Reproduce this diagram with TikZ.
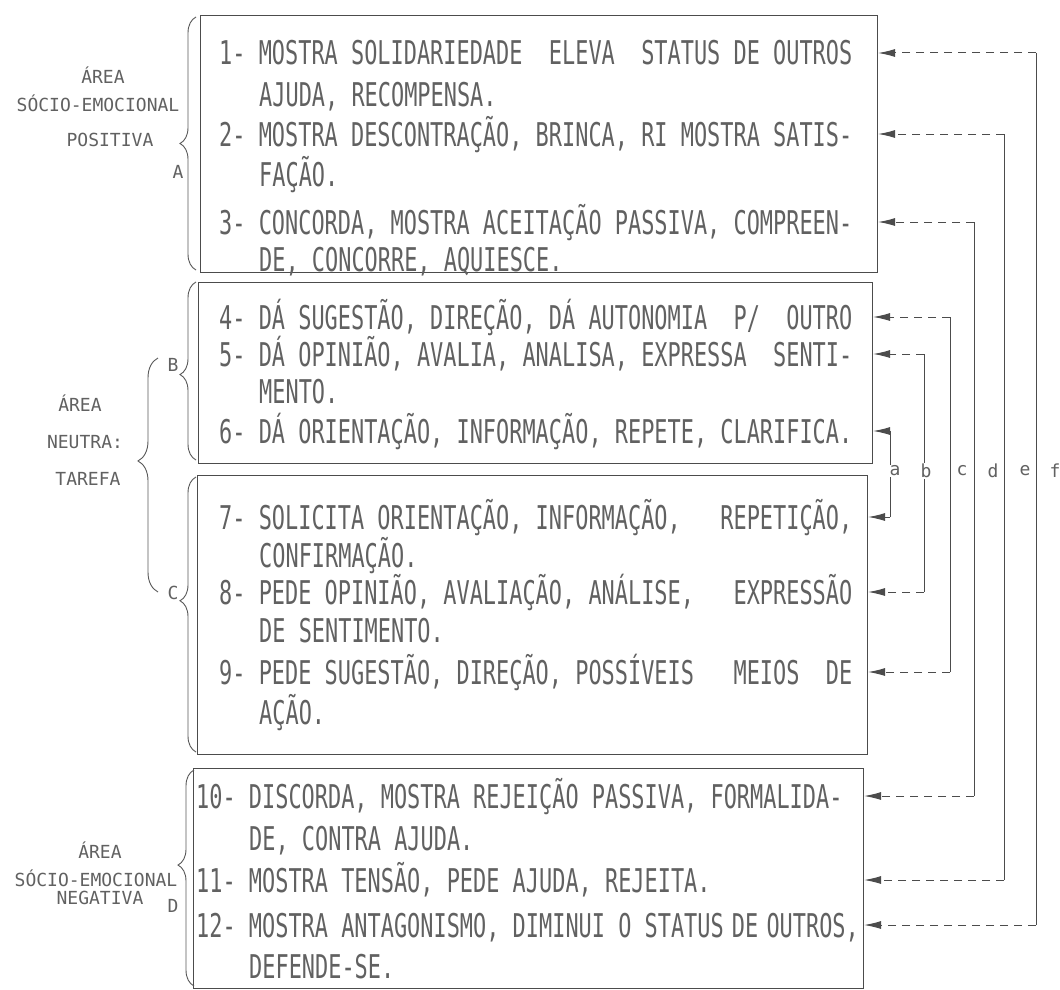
\documentclass[tikz,border=0pt]{standalone}
\usepackage{fontspec}
\usepackage{tikz}
\usetikzlibrary{positioning, arrows.meta, decorations.pathreplacing}
\newfontfamily\tw[FakeStretch=0.67]{DejaVu Sans Mono}
\newfontfamily\twl{DejaVu Sans Mono}

\begin{document}
\begin{tikzpicture}[
    x=1pt, y=-1pt,
    box/.style={
        draw=black!70,
        line width=1.1pt,
        anchor=north west,
        inner sep=0pt
    },
    item/.style={
        anchor=west,
        inner sep=0pt,
        text height=24pt,
        text depth=0pt,
        text=black!62,
        font=\tw\fontsize{32.7}{36}\selectfont
    },
    area/.style={inner sep=0pt, text=black!62, font=\twl\fontsize{18}{20}\selectfont},
    tag/.style={inner sep=1pt, text=black!62, font=\twl\fontsize{18}{20}\selectfont},
    lane/.style={draw=black!70, line width=1pt},
    feed/.style={draw=black!70, line width=1pt, dash pattern=on 8pt off 6pt,
        -{Latex[length=17pt,width=8pt]}},
    curly/.style={draw=black!65, line width=0.9pt, decorate}
]

\fill[white] (0,0) rectangle (1060,990);
\useasboundingbox (0,0) rectangle (1060,990);

% the four boxes
\node[box, minimum width=677pt, minimum height=257pt] (boxA) at (200,15) {};
\node[box, minimum width=674pt, minimum height=181pt] (boxB) at (198,282) {};
\node[box, minimum width=670pt, minimum height=279pt] (boxC) at (197,475) {};
\node[box, minimum width=670pt, minimum height=220pt] (boxD) at (193,768) {};

% categories
\node[item] (t1)  at (219,53)  {1- MOSTRA SOLIDARIEDADE~~ELEVA~~STATUS DE OUTROS};
\node[item] (t1b) at (259,94)  {AJUDA, RECOMPENSA.};
\node[item] (t2)  at (219,134) {2- MOSTRA DESCONTRAÇÃO, BRINCA, RI MOSTRA SATIS-};
\node[item] (t2b) at (259,174) {FAÇÃO.};
\node[item] (t3)  at (219,222) {3- CONCORDA, MOSTRA ACEITAÇÃO PASSIVA, COMPREEN-};
\node[item] (t3b) at (259,259) {DE, CONCORRE, AQUIESCE.};

\node[item] (t4)  at (219,317) {4- DÁ SUGESTÃO, DIREÇÃO, DÁ AUTONOMIA~~P/~~OUTRO};
\node[item] (t5)  at (219,354) {5- DÁ OPINIÃO, AVALIA, ANALISA, EXPRESSA~~SENTI-};
\node[item] (t5b) at (259,391) {MENTO.};
\node[item] (t6)  at (219,431) {6- DÁ ORIENTAÇÃO, INFORMAÇÃO, REPETE, CLARIFICA.};

\node[item] (t7)  at (219,517) {7- SOLICITA ORIENTAÇÃO, INFORMAÇÃO,~~~REPETIÇÃO,};
\node[item] (t7b) at (259,555) {CONFIRMAÇÃO.};
\node[item] (t8)  at (219,592) {8- PEDE OPINIÃO, AVALIAÇÃO, ANÁLISE,~~~EXPRESSÃO};
\node[item] (t8b) at (259,630) {DE SENTIMENTO.};
\node[item] (t9)  at (219,672) {9- PEDE SUGESTÃO, DIREÇÃO, POSSÍVEIS~~~MEIOS~~DE};
\node[item] (t9b) at (259,712) {AÇÃO.};

\node[item] (t10)  at (196,796) {10- DISCORDA, MOSTRA REJEIÇÃO PASSIVA, FORMALIDA-};
\node[item] (t10b) at (249,838) {DE, CONTRA AJUDA.};
\node[item] (t11)  at (196,880) {11- MOSTRA TENSÃO, PEDE AJUDA, REJEITA.};
\node[item] (t12)  at (196,925) {12- MOSTRA ANTAGONISMO, DIMINUI O STATUS\kern-5pt~DE\kern-5pt~OUTROS,};
\node[item] (t12b) at (249,966) {DEFENDE-SE.};

% areas on the left
\node[area] (pos1) at (103,75)  {ÁREA};
\node[area] (pos2) at (98,103)  {SÓCIO-EMOCIONAL};
\node[area] (pos3) at (110,140) {POSITIVA};
\node[tag]  (tagA) at (178,172) {A};

\node[area] (neu1) at (80,403) {ÁREA};
\node[area] (neu2) at (85,442) {NEUTRA:};
\node[area] (neu3) at (88,479) {TAREFA};
\node[tag]  (tagB) at (173,365) {B};
\node[tag]  (tagC) at (173,593) {C};

\node[area] (neg1) at (100,850) {ÁREA};
\node[area] (neg2) at (96,878)  {SÓCIO-EMOCIONAL};
\node[area] (neg3) at (100,898) {NEGATIVA};
\node[tag]  (tagD) at (173,906) {D};

\draw[curly, decoration={brace, amplitude=16pt, aspect=0.5}]  (196,270) -- (196,17);
\draw[curly, decoration={brace, amplitude=16pt, aspect=0.48}] (196,460) -- (196,282);
\draw[curly, decoration={brace, amplitude=16pt, aspect=0.55}] (196,752) -- (196,477);
\draw[curly, decoration={brace, amplitude=16pt, aspect=0.56}] (194,986) -- (194,770);
\draw[curly, decoration={brace, amplitude=20pt, aspect=0.56}] (158,592) -- (158,358);

% links between opposite categories
\foreach \u/\v/\bu/\bv/\x in {t1/t12/boxA/boxD/1036, t2/t11/boxA/boxD/1004,
        t3/t10/boxA/boxD/974, t4/t9/boxB/boxC/950, t5/t8/boxB/boxC/924,
        t6/t7/boxB/boxC/890} {
    \coordinate (lanetop) at (\x,0);
    \draw[lane] (\u -| lanetop) -- (\v -| lanetop);
    \draw[feed] (\u -| lanetop) -- (\u -| \bu.east);
    \draw[feed] (\v -| lanetop) -- (\v -| \bv.east);
}

\node[tag, fill=white] (la) at (895,471)  {a};
\node[tag, fill=white] (lb) at (926,471)  {b};
\node[tag] (lc) at (962,471)  {c};
\node[tag] (ld) at (993,471)  {d};
\node[tag] (le) at (1025,471) {e};
\node[tag] (lf) at (1055,471) {f};

\end{tikzpicture}
\end{document}
